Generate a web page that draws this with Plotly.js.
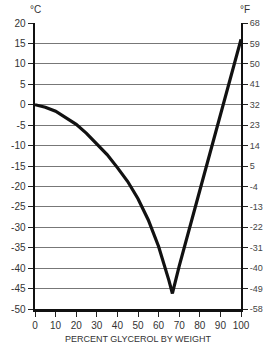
<!DOCTYPE html>
<html><head><meta charset="utf-8">
<script src="https://cdn.plot.ly/plotly-3.0.1.min.js"></script>
<style>html,body{margin:0;padding:0;background:#fff}</style>
</head><body>
<div id="chart" style="width:269px;height:344px"></div>
<script>
const percentGlycerol = [0, 5, 10, 15, 20, 25, 30, 35, 40, 45, 50, 55, 60, 63, 65, 66.7, 70, 80, 90, 100];
const freezingC = [0, -0.6, -1.6, -3.1, -4.8, -7, -9.5, -12.2, -15.4, -18.8, -23, -28.2, -34.7, -39.5, -43, -46.2, -39.5, -21, -2.5, 16];
const celsiusTicks = [20, 15, 10, 5, 0, -5, -10, -15, -20, -25, -30, -35, -40, -45, -50];
const fahrenheitTicks = [68, 59, 50, 41, 32, 23, 14, 5, -4, -13, -22, -31, -40, -49, -58];
const xTicks = [0, 10, 20, 30, 40, 50, 60, 70, 80, 90, 100];

const font = {family: 'Liberation Sans, Arial, sans-serif', size: 10, color: '#333'};

Plotly.newPlot('chart', [{
  x: percentGlycerol, y: freezingC, type: 'scatter', mode: 'lines',
  line: {color: '#111', width: 3.2, shape: 'linear'},
  hoverinfo: 'none', showlegend: false
}, {
  x: [0, 100], y: [-58, 68], yaxis: 'y2', mode: 'markers', marker: {opacity: 0},
  hoverinfo: 'none', showlegend: false
}], {
  width: 269, height: 344,
  margin: {l: 35, r: 28, t: 23, b: 35},
  paper_bgcolor: '#fff', plot_bgcolor: '#fff',
  font: font,
  xaxis: {
    range: [0, 100], tickvals: xTicks, ticks: 'outside', ticklen: 5, tickcolor: '#222',
    showgrid: false, zeroline: false, showline: true, linecolor: '#111', linewidth: 2.5,
    tickfont: font,
    title: {text: 'PERCENT GLYCEROL BY WEIGHT', font: {family: font.family, size: 9, color: '#333'}, standoff: 6}
  },
  yaxis: {
    range: [-50, 20], tickvals: celsiusTicks, ticktext: celsiusTicks.map(String),
    ticks: 'outside', ticklen: 5, tickcolor: '#222',
    showgrid: true, gridcolor: '#777', gridwidth: 1, zeroline: false,
    showline: true, linecolor: '#111', linewidth: 2.5, tickfont: font
  },
  yaxis2: {
    range: [-58, 68], tickvals: fahrenheitTicks, ticktext: fahrenheitTicks.map(String),
    overlaying: 'y', side: 'right',
    ticks: 'outside', ticklen: 5, tickcolor: '#222', showgrid: false, zeroline: false,
    showline: true, linecolor: '#111', linewidth: 2, tickfont: {family: font.family, size: 9, color: '#444'}
  },
  annotations: [
    {text: '°C', xref: 'paper', yref: 'paper', x: 0, y: 1, yshift: 14, xanchor: 'center', yanchor: 'middle', showarrow: false, font: {family: font.family, size: 10, color: '#333'}},
    {text: '°F', xref: 'paper', yref: 'paper', x: 1, y: 1, yshift: 14, xshift: 4, xanchor: 'center', yanchor: 'middle', showarrow: false, font: {family: font.family, size: 10, color: '#333'}}
  ]
}, {staticPlot: true, displayModeBar: false});
</script>
</body></html>
